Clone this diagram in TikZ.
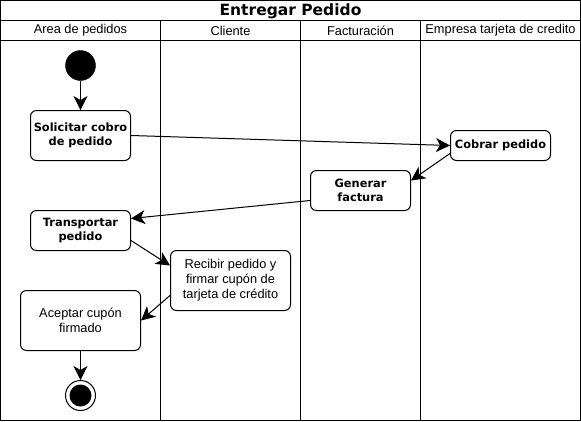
\documentclass[tikz,border=0pt]{standalone}
\usepackage{fontspec}
\setmainfont{Liberation Sans}
\newfontfamily\boldfam{DejaVu Sans}
\usetikzlibrary{arrows.meta,calc}
\tikzset{
  frame/.style={draw=black, line width=1pt},
  act/.style={draw=black, line width=1pt, rounded corners=6pt, fill=white, align=center, inner sep=1pt},
  actb/.style={act, font=\boldfam\bfseries\fontsize{11.4}{14}\selectfont},
  actr/.style={act, font=\fontsize{12.8}{15}\selectfont},
  lanehead/.style={font=\fontsize{12.8}{15}\selectfont, inner sep=0pt},
  flow/.style={draw=black, line width=1pt, -{Stealth[length=14pt,width=14pt,inset=4pt]}},
}
\begin{document}
\begin{tikzpicture}[x=1pt,y=-1pt]
\useasboundingbox (0,0) rectangle (581,421);
\fill[white] (0,0) rectangle (581,421);
% frame and lanes
\draw[frame] (0.5,0.5) rectangle (580.5,420.5);
\draw[frame] (0.5,20.5) -- (580.5,20.5);
\draw[frame] (0.5,40.5) -- (580.5,40.5);
\draw[frame] (160.5,20.5) -- (160.5,420.5);
\draw[frame] (300.5,20.5) -- (300.5,420.5);
\draw[frame] (420.5,20.5) -- (420.5,420.5);
\node[font=\boldfam\bfseries\fontsize{15.5}{18}\selectfont, inner sep=0pt] (title) at (290.5,11) {Entregar Pedido};
\node[lanehead] (l1) at (80.5,30.5) {Area de pedidos};
\node[lanehead] (l2) at (230.5,30.5) {Cliente};
\node[lanehead] (l3) at (360.5,30.5) {Facturación};
\node[lanehead] (l4) at (500.5,30.5) {Empresa tarjeta de credito};
% activity nodes
\node[circle, fill=black, draw=black, minimum size=30pt, inner sep=0pt] (start) at (80.5,65.5) {};
\node[actb, minimum width=100pt, minimum height=50pt] (solicitar) at (80.5,135.5) {Solicitar cobro\\de pedido};
\node[actb, minimum width=100pt, minimum height=30pt] (cobrar) at (500.5,145.5) {Cobrar pedido};
\node[actb, minimum width=100pt, minimum height=40pt] (generar) at (360.5,190.5) {Generar\\factura};
\node[actb, minimum width=100pt, minimum height=40pt] (transportar) at (80.5,230.5) {Transportar\\pedido};
\node[actr, minimum width=120pt, minimum height=60pt] (recibir) at (230.5,280.5) {Recibir pedido y\\firmar cupón de\\tarjeta de crédito};
\node[actr, minimum width=120pt, minimum height=60pt] (aceptar) at (80.5,320.5) {Aceptar cupón\\firmado};
\node[circle, draw=black, line width=1pt, fill=white, minimum size=30pt, inner sep=0pt] (end) at (80.5,395.5) {};
\fill[black] (end.center) circle (11pt);
% flows
\draw[flow] (start.south) -- (solicitar.north);
\draw[flow] (solicitar.east) -- (cobrar.west);
\draw[flow] ([yshift=-8pt]cobrar.west) -- ([yshift=10pt]generar.east);
\draw[flow] ([yshift=-10pt]generar.west) -- ([yshift=12pt]transportar.east);
\draw[flow] ([yshift=-10pt]transportar.east) -- ([yshift=15pt]recibir.west);
\draw[flow] ([yshift=-15pt]recibir.west) -- (aceptar.east);
\draw[flow] (aceptar.south) -- (end.north);
\end{tikzpicture}
\end{document}
